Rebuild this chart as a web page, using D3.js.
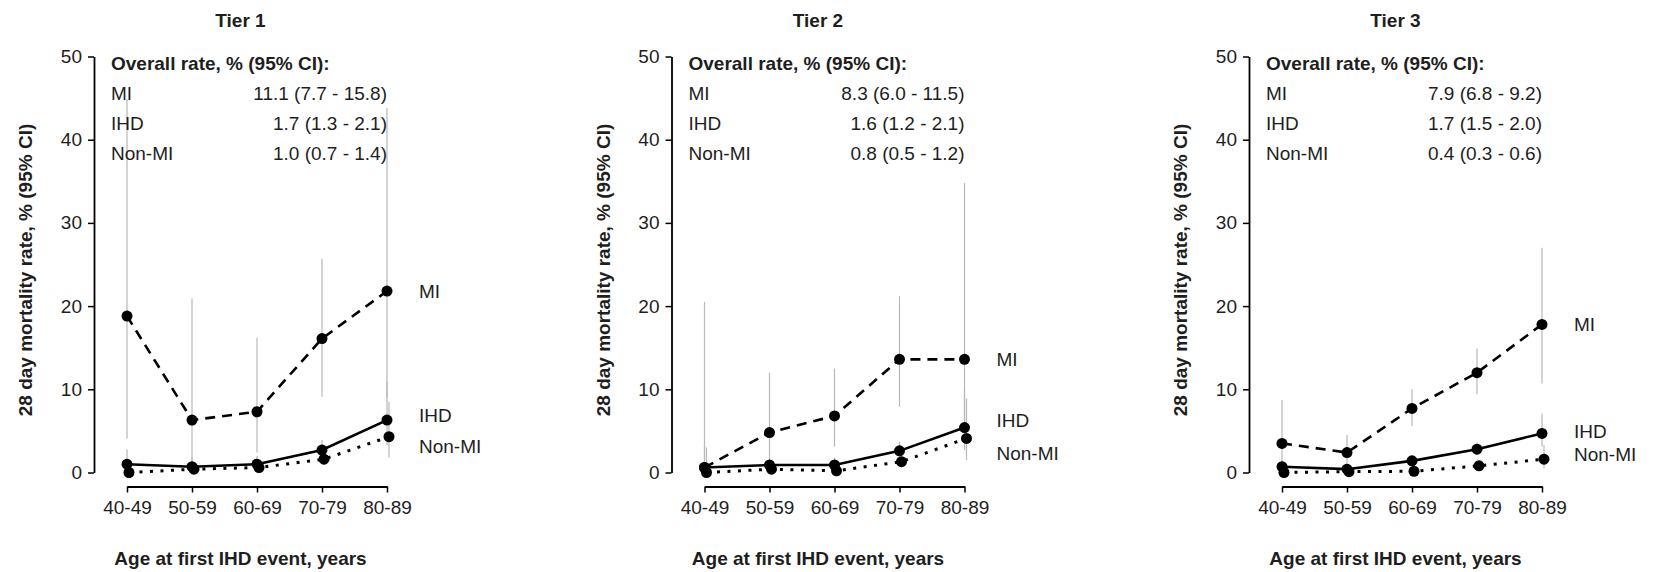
<!DOCTYPE html>
<html>
<head>
<meta charset="utf-8">
<script src="https://cdn.jsdelivr.net/npm/d3@7"></script>
<style>
  body { margin: 0; background: #fff; }
  svg { font-family: "Liberation Sans", Arial, sans-serif; }
</style>
</head>
<body>
<svg id="drawing_region"></svg>
<script>
const tiers = ["Tier 1", "Tier 2", "Tier 3"];
const ageGroups = ["40-49", "50-59", "60-69", "70-79", "80-89"];
const seriesNames = ["MI", "IHD", "Non-MI"];
const yTicks = [0, 10, 20, 30, 40, 50];

// rates per tier, per age group
const miRate = [[18.8, 6.3, 7.3, 16.1, 21.8], [0.6, 4.8, 6.8, 13.6, 13.6], [3.5, 2.4, 7.7, 12.0, 17.8]];
const miLow  = [[4.1, 0.3, 2.4, 9.1, 9.0], [0.0, 1.9, 3.1, 7.9, 5.5], [0.9, 0.8, 5.6, 9.4, 10.7]];
const miHigh = [[44.9, 20.9, 16.2, 25.7, 43.8], [20.5, 12.0, 12.5, 21.2, 34.8], [8.7, 4.5, 10.0, 14.9, 27.0]];

const ihdRate = [[1.0, 0.7, 1.0, 2.7, 6.3], [0.6, 0.9, 0.9, 2.6, 5.4], [0.7, 0.4, 1.4, 2.8, 4.7]];
const ihdLow  = [[0.3, 0.2, 0.4, 1.9, 3.3], [0.1, 0.3, 0.4, 1.7, 2.7], [0.2, 0.1, 0.9, 2.1, 3.1]];
const ihdHigh = [[2.8, 1.8, 2.0, 3.9, 10.9], [3.3, 1.9, 1.8, 3.7, 10.0], [1.5, 1.0, 2.0, 3.6, 7.1]];

const nonMiRate = [[0.0, 0.4, 0.6, 1.6, 4.3], [0.0, 0.4, 0.2, 1.3, 4.1], [0.0, 0.1, 0.15, 0.8, 1.6]];
const nonMiLow  = [[0.0, 0.1, 0.2, 0.9, 1.8], [0.0, 0.1, 0.0, 0.6, 1.5], [0.0, 0.0, 0.0, 0.4, 0.5]];
const nonMiHigh = [[1.5, 1.2, 1.5, 2.8, 8.5], [3.0, 1.3, 0.9, 2.6, 8.9], [0.6, 0.5, 0.5, 1.4, 3.3]];

// overall rate text per tier: MI, IHD, Non-MI
const overallRates = [
    ["11.1 (7.7 - 15.8)", "1.7 (1.3 - 2.1)", "1.0 (0.7 - 1.4)"],
    ["8.3 (6.0 - 11.5)", "1.6 (1.2 - 2.1)", "0.8 (0.5 - 1.2)"],
    ["7.9 (6.8 - 9.2)", "1.7 (1.5 - 2.0)", "0.4 (0.3 - 0.6)"]
];

// where the series name sits (in % units) at the right of each panel
const labelY = [[21.8, 6.9, 3.1], [13.6, 6.3, 2.3], [17.8, 4.9, 2.2]];

const config = {
    width: 1676,
    height: 572,
    panelStep: 577.5,
    axisX: 94,
    xStart: 33,
    xEnd: 293,
    yTop: 56.5,
    yBottom: 472.5,
    xAxisY: 486.5
};

const styles = {
    "MI":     { dash: "10,7", width: 2.6, dx: 0 },
    "IHD":    { dash: null,   width: 2.6, dx: 0 },
    "Non-MI": { dash: "3,7.5", width: 3, dx: 2 }
};

const svg = d3.select("#drawing_region")
    .attr("width", config.width)
    .attr("height", config.height);

const textColor = "#1e1e1e";

tiers.forEach((tier, t) => {
    const ax = config.axisX + t * config.panelStep;
    const g = svg.append("g");

    const xscale = d3.scalePoint()
        .domain(ageGroups)
        .range([ax + config.xStart, ax + config.xEnd]);

    const yscale = d3.scaleLinear()
        .domain([0, 50])
        .range([config.yBottom, config.yTop]);

    const series = [
        { name: "MI", rate: miRate[t], low: miLow[t], high: miHigh[t] },
        { name: "IHD", rate: ihdRate[t], low: ihdLow[t], high: ihdHigh[t] },
        { name: "Non-MI", rate: nonMiRate[t], low: nonMiLow[t], high: nonMiHigh[t] }
    ];

    // error bars
    series.forEach(s => {
        g.append("g").selectAll("line")
            .data(ageGroups)
            .join("line")
            .attr("x1", (d, i) => xscale(d) + styles[s.name].dx)
            .attr("x2", (d, i) => xscale(d) + styles[s.name].dx)
            .attr("y1", (d, i) => yscale(s.low[i]))
            .attr("y2", (d, i) => yscale(s.high[i]))
            .attr("stroke", "#b8b8b8")
            .attr("stroke-width", 1.2);
    });

    // lines + points
    series.forEach(s => {
        const st = styles[s.name];
        const line = d3.line()
            .x((d, i) => xscale(ageGroups[i]) + st.dx)
            .y(d => yscale(d));

        g.append("path")
            .datum(s.rate)
            .attr("d", line)
            .attr("fill", "none")
            .attr("stroke", "#000")
            .attr("stroke-width", st.width)
            .attr("stroke-dasharray", st.dash);

        g.append("g").selectAll("circle")
            .data(s.rate)
            .join("circle")
            .attr("cx", (d, i) => xscale(ageGroups[i]) + st.dx)
            .attr("cy", d => yscale(d))
            .attr("r", 5.5)
            .attr("fill", "#000");

        g.append("text")
            .attr("x", xscale(ageGroups[ageGroups.length - 1]) + 32)
            .attr("y", yscale(labelY[t][seriesNames.indexOf(s.name)]))
            .attr("dy", "0.35em")
            .attr("font-size", "19px")
            .attr("fill", textColor)
            .text(s.name);
    });

    // y axis
    const yaxis = d3.axisLeft(yscale)
        .tickValues(yTicks)
        .tickSize(6)
        .tickPadding(6)
        .tickSizeOuter(0);

    const yg = g.append("g")
        .attr("transform", `translate(${ax}, 0)`)
        .call(yaxis);
    yg.select(".domain").attr("stroke-width", 1.8);
    yg.selectAll(".tick line").attr("stroke-width", 1.5);
    yg.selectAll(".tick text")
        .attr("font-size", "19px")
        .attr("font-family", "Liberation Sans, Arial, sans-serif")
        .attr("fill", textColor);

    // x axis
    const xaxis = d3.axisBottom(xscale)
        .tickSize(6)
        .tickPadding(8.5)
        .tickSizeOuter(0);

    const xg = g.append("g")
        .attr("transform", `translate(0, ${config.xAxisY})`)
        .call(xaxis);
    xg.select(".domain").attr("stroke-width", 1.8);
    xg.selectAll(".tick line").attr("stroke-width", 1.5);
    xg.selectAll(".tick text")
        .attr("font-size", "19px")
        .attr("font-family", "Liberation Sans, Arial, sans-serif")
        .attr("fill", textColor);

    // titles
    const cx = ax + (config.xStart + config.xEnd) / 2 - 16;
    g.append("text")
        .attr("x", ax + 146.5)
        .attr("y", 27)
        .attr("text-anchor", "middle")
        .attr("font-size", "19px")
        .attr("font-weight", "bold")
        .attr("fill", textColor)
        .text(tier);

    g.append("text")
        .attr("x", ax + 146.5)
        .attr("y", 565)
        .attr("text-anchor", "middle")
        .attr("font-size", "19px")
        .attr("font-weight", "bold")
        .attr("fill", textColor)
        .text("Age at first IHD event, years");

    g.append("text")
        .attr("transform", `translate(${ax - 62}, 270) rotate(-90)`)
        .attr("text-anchor", "middle")
        .attr("font-size", "19px")
        .attr("font-weight", "bold")
        .attr("fill", textColor)
        .text("28 day mortality rate, % (95% CI)");

    // overall rate box
    g.append("text")
        .attr("x", ax + 17)
        .attr("y", 70)
        .attr("font-size", "19px")
        .attr("font-weight", "bold")
        .attr("fill", textColor)
        .text("Overall rate, % (95% CI):");

    seriesNames.forEach((name, k) => {
        g.append("text")
            .attr("x", ax + 17)
            .attr("y", 100 + k * 30)
            .attr("font-size", "19px")
            .attr("fill", textColor)
            .text(name);
        g.append("text")
            .attr("x", ax + config.xEnd)
            .attr("y", 100 + k * 30)
            .attr("text-anchor", "end")
            .attr("font-size", "19px")
            .attr("fill", textColor)
            .text(overallRates[t][k]);
    });
});
</script>
</body>
</html>
